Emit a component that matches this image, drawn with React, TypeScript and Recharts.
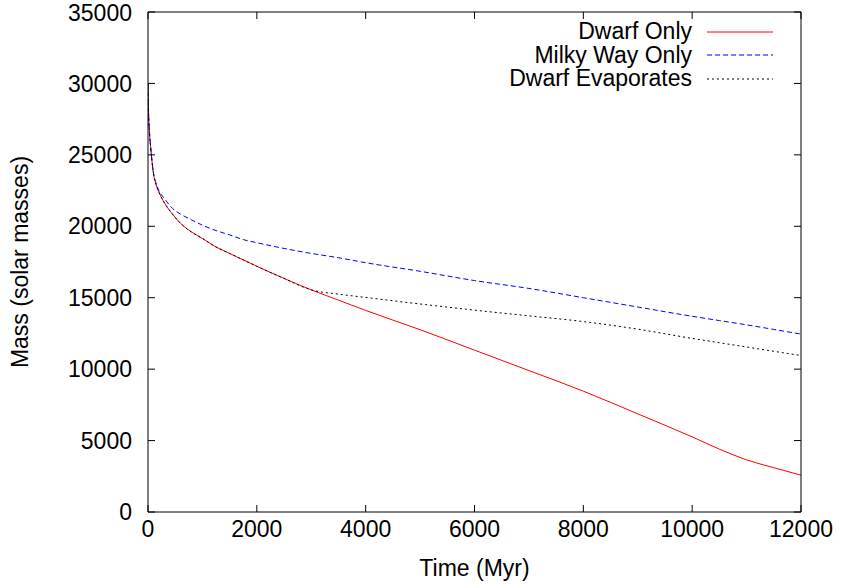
import React from "react";
import {
  LineChart,
  Line,
  XAxis,
  YAxis,
  Legend,
} from "recharts";

// time grid (Myr)
const times = [
  0, 10, 25, 50, 100, 150, 200, 300, 450, 600, 800, 1000, 1250, 1500, 1750,
  2000, 2500, 3000, 3500, 4000, 5000, 6000, 7000, 8000, 9000, 10000, 10500,
  11000, 11500, 12000,
];

// mass in solar masses
const dwarfOnly = [
  30000, 28000, 26700, 25500, 23700, 22900, 22400, 21650, 20850, 20200, 19600,
  19150, 18550, 18100, 17650, 17200, 16350, 15550, 14830, 14110, 12760, 11330,
  9900, 8460, 6870, 5260, 4400, 3650, 3100, 2580,
];
const milkyWayOnly = [
  30000, 28000, 26700, 25500, 23750, 23000, 22500, 21950, 21250, 20850, 20450,
  20080, 19700, 19400, 19070, 18850, 18450, 18100, 17800, 17450, 16850, 16200,
  15650, 15000, 14350, 13700, 13400, 13100, 12780, 12450,
];
const dwarfEvaporates = [
  30000, 28000, 26700, 25500, 23700, 22900, 22400, 21650, 20850, 20200, 19600,
  19150, 18550, 18100, 17650, 17200, 16350, 15550, 15250, 15020, 14560, 14130,
  13730, 13330, 12800, 12150, 11850, 11550, 11250, 10950,
];

const xTicks = [0, 2000, 4000, 6000, 8000, 10000, 12000];
const yTicks = [0, 5000, 10000, 15000, 20000, 25000, 30000, 35000];

const seriesInfo = [
  { key: "dwarf", name: "Dwarf Only", color: "#ff0000", dash: undefined },
  { key: "milky", name: "Milky Way Only", color: "#0000ff", dash: "5 3" },
  { key: "evap", name: "Dwarf Evaporates", color: "#000000", dash: "2 3" },
];

const data = times.map((t, i) => ({
  t,
  dwarf: dwarfOnly[i],
  milky: milkyWayOnly[i],
  evap: dwarfEvaporates[i],
}));

const FONT = "'Liberation Sans', Arial, sans-serif";
const tickStyle = { fill: "#000", fontSize: 23, fontFamily: FONT };

const LegendBox = () => (
  <div style={{ fontFamily: FONT, fontSize: 23, lineHeight: "23.5px" }}>
    {seriesInfo.map((s) => (
      <div
        key={s.key}
        style={{ display: "flex", alignItems: "center", justifyContent: "flex-end" }}
      >
        <span style={{ color: "#000", whiteSpace: "nowrap" }}>{s.name}</span>
        <svg width={82} height={12} style={{ marginLeft: 15 }}>
          <line
            x1={0}
            y1={6}
            x2={66}
            y2={6}
            stroke={s.color}
            strokeWidth={1}
            strokeDasharray={s.dash}
          />
        </svg>
      </div>
    ))}
  </div>
);

export default function App() {
  return (
    <div style={{ position: "absolute", left: 0, top: 0, background: "#fff" }}>
      <LineChart
        width={841}
        height={587}
        data={data}
        margin={{ top: 11, right: 39, bottom: 0, left: 0 }}
      >
        <XAxis
          dataKey="t"
          type="number"
          domain={[0, 12000]}
          ticks={xTicks}
          allowDataOverflow
          stroke="#000"
          tickSize={-7}
          tickMargin={16}
          tick={tickStyle}
          height={75}
          label={{
            value: "Time (Myr)",
            position: "insideBottom",
            offset: 11,
            fill: "#000",
            fontSize: 23,
            fontFamily: FONT,
          }}
        />
        <XAxis
          xAxisId="top"
          orientation="top"
          dataKey="t"
          type="number"
          domain={[0, 12000]}
          ticks={xTicks}
          allowDataOverflow
          stroke="#000"
          tickSize={-7}
          height={1}
          tickFormatter={() => ""}
        />
        <YAxis
          type="number"
          domain={[0, 35000]}
          ticks={yTicks}
          allowDataOverflow
          stroke="#000"
          width={148}
          tickSize={-7}
          tickMargin={23}
          tick={tickStyle}
          label={{
            value: "Mass (solar masses)",
            angle: -90,
            position: "insideLeft",
            offset: 20,
            style: { textAnchor: "middle" },
            fill: "#000",
            fontSize: 23,
            fontFamily: FONT,
          }}
        />
        <YAxis
          yAxisId="right"
          orientation="right"
          type="number"
          domain={[0, 35000]}
          ticks={yTicks}
          allowDataOverflow
          stroke="#000"
          width={1}
          tickSize={-7}
          tickFormatter={() => ""}
        />
        <Legend
          layout="vertical"
          align="center"
          verticalAlign="middle"
          content={<LegendBox />}
          wrapperStyle={{ top: 20, left: 415, width: 374 }}
        />
        {/* invisible series so the mirrored top/right axes get drawn */}
        <Line
          xAxisId="top"
          yAxisId="right"
          dataKey="dwarf"
          stroke="none"
          dot={false}
          activeDot={false}
          legendType="none"
          isAnimationActive={false}
        />
        {seriesInfo.map((s) => (
          <Line
            key={s.key}
            dataKey={s.key}
            name={s.name}
            type="monotone"
            stroke={s.color}
            strokeWidth={1}
            strokeDasharray={s.dash}
            dot={false}
            activeDot={false}
            isAnimationActive={false}
          />
        ))}
      </LineChart>
    </div>
  );
}
